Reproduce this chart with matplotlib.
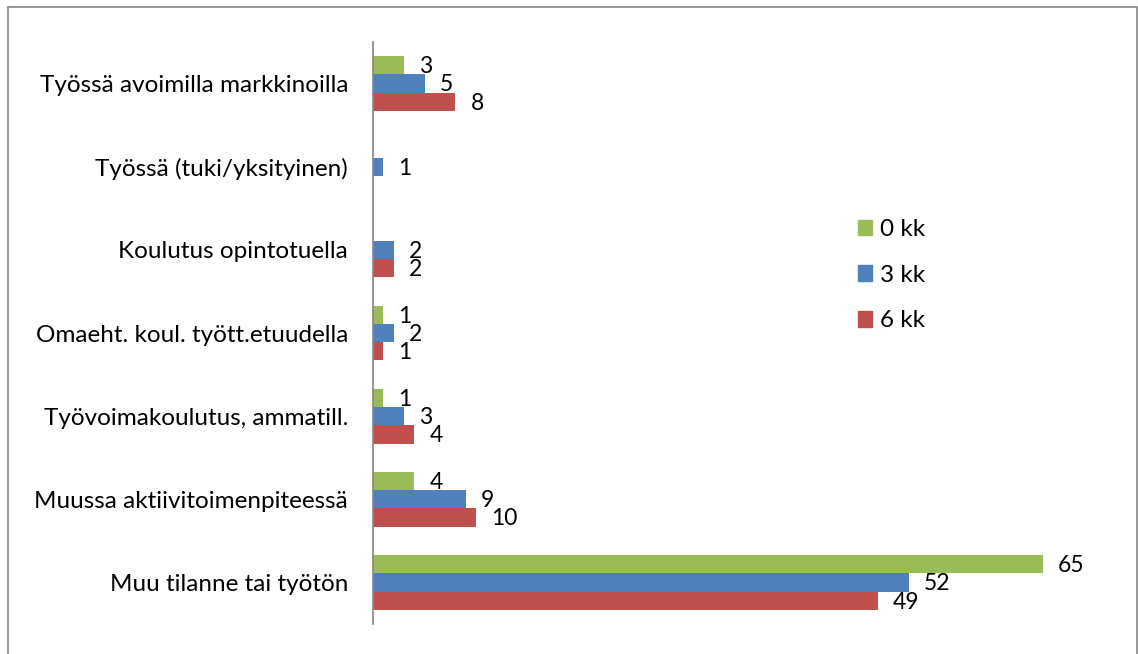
import matplotlib
matplotlib.use('Agg')
import matplotlib.pyplot as plt
import numpy as np
from matplotlib.patches import Patch, Rectangle

plt.rcParams['font.family'] = ['Lato', 'DejaVu Sans']

categories = ['Työssä avoimilla markkinoilla',
              'Työssä (tuki/yksityinen)',
              'Koulutus opintotuella',
              'Omaeht. koul. tyött.etuudella',
              'Työvoimakoulutus, ammatill.',
              'Muussa aktiivitoimenpiteessä',
              'Muu tilanne tai työtön']
series_names = ['0 kk', '3 kk', '6 kk']
kk0 = [3, 0, 0, 1, 1, 4, 65]
kk3 = [5, 1, 2, 2, 3, 9, 52]
kk6 = [8, 0, 2, 1, 4, 10, 49]
colors = ['#9BBB59', '#4F81BD', '#C0504D']

fig = plt.figure(figsize=(11.38, 6.54), dpi=100)
W, H = 1138.0, 654.0
ax = fig.add_axes([373 / W, 1 - 624 / H, (1094 - 373) / W, (624 - 42) / H])

fs = 17.5
y = np.arange(len(categories))
h = 0.22
for k, (vals, col, name) in enumerate(zip([kk0, kk3, kk6], colors, series_names)):
    pos = y + (k - 1) * h
    ax.barh(pos, vals, height=h, color=col, label=name)
    for p, v in zip(pos, vals):
        if v == 0:
            continue
        ax.annotate(str(v), (v, p), xytext=(11, -1), textcoords='offset points',
                    ha='left', va='center', fontsize=16.5, color='black')

ax.set_xlim(0, 70)
ax.set_ylim(len(categories) - 0.5, -0.5)
ax.set_yticks(y)
ax.set_yticklabels(categories, fontsize=fs)
ax.tick_params(axis='y', length=0, pad=18)
ax.set_xticks([])
for s in ['top', 'right', 'bottom']:
    ax.spines[s].set_visible(False)
ax.spines['left'].set_color('#868686')
ax.spines['left'].set_linewidth(1.2)

handles = [Patch(color=c) for c in colors]
fig.legend(handles, series_names, loc='upper left',
           bbox_to_anchor=(836 / W, 1 - 197 / H), frameon=False,
           fontsize=fs, handlelength=0.6, handleheight=0.6,
           handletextpad=0.3, labelspacing=1.02)

fig.patches.append(Rectangle((8 / W, -0.1), (1137 - 8) / W, 1.1 - 7 / H,
                             transform=fig.transFigure, fill=False,
                             edgecolor='#868686', linewidth=1.2))

fig.savefig('out.png', dpi=100)
